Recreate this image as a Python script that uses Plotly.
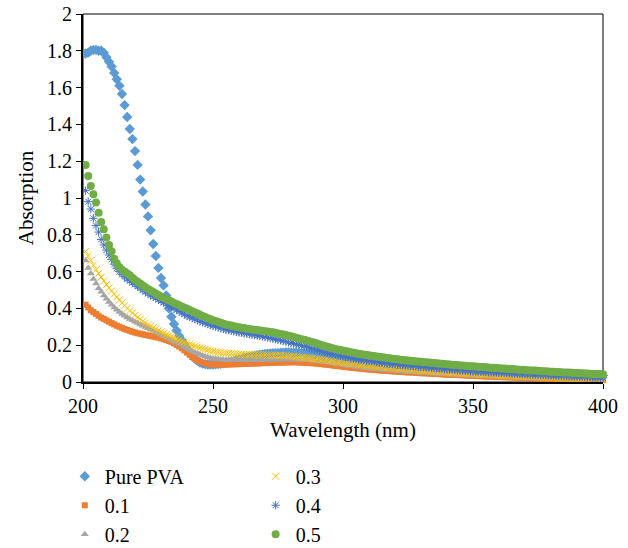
import plotly.graph_objects as go

wavelength = list(range(201, 401))

pure_pva = [
    1.785, 1.79, 1.80, 1.805, 1.805, 1.80, 1.80, 1.79, 1.765, 1.74,
    1.715, 1.68, 1.645, 1.61, 1.565, 1.505, 1.44, 1.375, 1.32, 1.255,
    1.18, 1.10, 1.035, 0.965, 0.90, 0.825, 0.75, 0.685, 0.62, 0.565,
    0.525, 0.47, 0.40, 0.355, 0.315, 0.28, 0.25, 0.228, 0.205, 0.182,
    0.16, 0.142, 0.127, 0.115, 0.106, 0.10, 0.097, 0.095, 0.095, 0.095,
    0.096, 0.097, 0.099, 0.101, 0.104, 0.107, 0.11, 0.114, 0.118, 0.122,
    0.126, 0.13, 0.134, 0.137, 0.14, 0.143, 0.146, 0.148, 0.15, 0.152,
    0.154, 0.155, 0.156, 0.157, 0.158, 0.159, 0.159, 0.16, 0.16, 0.16,
    0.159, 0.159, 0.158, 0.157, 0.156, 0.154, 0.152, 0.15, 0.147, 0.145,
    0.142, 0.139, 0.136, 0.133, 0.13, 0.127, 0.124, 0.121, 0.118, 0.115,
    0.113, 0.111, 0.109, 0.107, 0.105, 0.103, 0.101, 0.099, 0.097, 0.096,
    0.094, 0.093, 0.091, 0.09, 0.089, 0.088, 0.087, 0.086, 0.085, 0.084,
    0.083, 0.082, 0.081, 0.08, 0.079, 0.078, 0.077, 0.076, 0.075, 0.074,
    0.073, 0.072, 0.071, 0.07, 0.069, 0.068, 0.067, 0.066, 0.066, 0.065,
    0.064, 0.063, 0.063, 0.062, 0.061, 0.06, 0.06, 0.059, 0.058, 0.058,
    0.057, 0.057, 0.056, 0.055, 0.055, 0.054, 0.054, 0.053, 0.053, 0.052,
    0.052, 0.051, 0.051, 0.05, 0.05, 0.049, 0.049, 0.048, 0.048, 0.047,
    0.047, 0.046, 0.046, 0.046, 0.045, 0.045, 0.044, 0.044, 0.044, 0.043,
    0.043, 0.042, 0.042, 0.042, 0.041, 0.041, 0.041, 0.04, 0.04, 0.04,
    0.039, 0.039, 0.039, 0.038, 0.038, 0.038, 0.037, 0.037, 0.037, 0.036,
]

s01 = [
    0.42, 0.405, 0.39, 0.38, 0.37, 0.36, 0.35, 0.343, 0.335, 0.328,
    0.32, 0.313, 0.306, 0.30, 0.294, 0.288, 0.283, 0.278, 0.273, 0.269,
    0.265, 0.262, 0.259, 0.256, 0.253, 0.25, 0.247, 0.244, 0.241, 0.237,
    0.233, 0.228, 0.223, 0.217, 0.21, 0.202, 0.193, 0.183, 0.172, 0.16,
    0.148, 0.137, 0.127, 0.118, 0.11, 0.105, 0.101, 0.098, 0.096, 0.095,
    0.095, 0.095, 0.095, 0.095, 0.095, 0.095, 0.096, 0.096, 0.097, 0.097,
    0.098, 0.098, 0.099, 0.10, 0.10, 0.101, 0.101, 0.102, 0.102, 0.103,
    0.103, 0.104, 0.104, 0.105, 0.105, 0.106, 0.106, 0.106, 0.107, 0.107,
    0.107, 0.107, 0.106, 0.106, 0.105, 0.104, 0.103, 0.102, 0.101, 0.10,
    0.098, 0.097, 0.095, 0.094, 0.092, 0.09, 0.088, 0.087, 0.085, 0.083,
    0.081, 0.08, 0.078, 0.077, 0.075, 0.074, 0.072, 0.071, 0.069, 0.068,
    0.067, 0.066, 0.065, 0.063, 0.062, 0.061, 0.06, 0.059, 0.058, 0.057,
    0.056, 0.055, 0.054, 0.053, 0.052, 0.052, 0.051, 0.05, 0.049, 0.048,
    0.047, 0.047, 0.046, 0.045, 0.044, 0.044, 0.043, 0.042, 0.041, 0.04,
    0.04, 0.039, 0.039, 0.038, 0.037, 0.037, 0.036, 0.035, 0.034, 0.033,
    0.033, 0.032, 0.032, 0.031, 0.03, 0.03, 0.029, 0.029, 0.028, 0.027,
    0.027, 0.026, 0.026, 0.025, 0.025, 0.024, 0.024, 0.023, 0.023, 0.022,
    0.022, 0.021, 0.021, 0.021, 0.02, 0.02, 0.019, 0.019, 0.018, 0.017,
    0.017, 0.017, 0.016, 0.016, 0.015, 0.015, 0.015, 0.014, 0.014, 0.013,
    0.013, 0.013, 0.012, 0.012, 0.012, 0.011, 0.011, 0.011, 0.01, 0.01,
]

s02 = [
    0.66, 0.62, 0.59, 0.56, 0.535, 0.51, 0.49, 0.47, 0.452, 0.435,
    0.42, 0.405, 0.392, 0.38, 0.37, 0.36, 0.351, 0.343, 0.335, 0.327,
    0.32, 0.313, 0.306, 0.299, 0.292, 0.285, 0.278, 0.271, 0.264, 0.257,
    0.25, 0.243, 0.236, 0.229, 0.222, 0.214, 0.206, 0.198, 0.19, 0.182,
    0.175, 0.168, 0.161, 0.155, 0.149, 0.144, 0.139, 0.135, 0.131, 0.128,
    0.126, 0.124, 0.122, 0.121, 0.12, 0.12, 0.119, 0.119, 0.119, 0.119,
    0.119, 0.119, 0.119, 0.119, 0.119, 0.12, 0.12, 0.12, 0.12, 0.12,
    0.12, 0.121, 0.121, 0.121, 0.121, 0.122, 0.122, 0.122, 0.122, 0.122,
    0.122, 0.121, 0.121, 0.12, 0.12, 0.119, 0.118, 0.117, 0.115, 0.114,
    0.112, 0.11, 0.108, 0.106, 0.104, 0.102, 0.099, 0.097, 0.095, 0.092,
    0.09, 0.088, 0.086, 0.084, 0.082, 0.08, 0.079, 0.077, 0.075, 0.074,
    0.072, 0.071, 0.069, 0.068, 0.067, 0.065, 0.064, 0.063, 0.062, 0.06,
    0.059, 0.058, 0.057, 0.056, 0.055, 0.054, 0.053, 0.052, 0.051, 0.05,
    0.049, 0.048, 0.048, 0.047, 0.046, 0.045, 0.044, 0.044, 0.043, 0.042,
    0.041, 0.041, 0.04, 0.039, 0.039, 0.038, 0.037, 0.037, 0.036, 0.035,
    0.035, 0.034, 0.034, 0.033, 0.032, 0.032, 0.031, 0.031, 0.03, 0.03,
    0.029, 0.029, 0.028, 0.028, 0.027, 0.027, 0.026, 0.026, 0.025, 0.025,
    0.024, 0.024, 0.023, 0.023, 0.023, 0.022, 0.022, 0.021, 0.021, 0.02,
    0.02, 0.02, 0.019, 0.019, 0.018, 0.018, 0.018, 0.017, 0.017, 0.016,
    0.016, 0.016, 0.015, 0.015, 0.015, 0.014, 0.014, 0.013, 0.013, 0.012,
]

s03 = [
    0.71, 0.685, 0.66, 0.635, 0.61, 0.59, 0.57, 0.55, 0.53, 0.512,
    0.495, 0.478, 0.462, 0.446, 0.43, 0.415, 0.401, 0.388, 0.375, 0.363,
    0.352, 0.341, 0.331, 0.321, 0.312, 0.303, 0.295, 0.287, 0.279, 0.272,
    0.265, 0.258, 0.252, 0.246, 0.24, 0.234, 0.228, 0.222, 0.216, 0.21,
    0.205, 0.20, 0.195, 0.19, 0.186, 0.182, 0.178, 0.174, 0.17, 0.167,
    0.164, 0.162, 0.16, 0.158, 0.156, 0.155, 0.154, 0.153, 0.152, 0.151,
    0.15, 0.15, 0.149, 0.149, 0.148, 0.148, 0.148, 0.147, 0.147, 0.147,
    0.146, 0.146, 0.146, 0.145, 0.145, 0.144, 0.143, 0.142, 0.141, 0.14,
    0.139, 0.137, 0.136, 0.134, 0.133, 0.131, 0.129, 0.128, 0.126, 0.125,
    0.123, 0.121, 0.119, 0.117, 0.115, 0.113, 0.111, 0.109, 0.107, 0.105,
    0.103, 0.101, 0.099, 0.098, 0.096, 0.094, 0.093, 0.091, 0.089, 0.088,
    0.086, 0.085, 0.083, 0.082, 0.081, 0.079, 0.078, 0.077, 0.076, 0.075,
    0.073, 0.072, 0.071, 0.07, 0.069, 0.068, 0.066, 0.065, 0.064, 0.063,
    0.062, 0.061, 0.06, 0.059, 0.058, 0.057, 0.056, 0.055, 0.054, 0.052,
    0.051, 0.05, 0.049, 0.049, 0.048, 0.047, 0.046, 0.045, 0.044, 0.043,
    0.042, 0.042, 0.041, 0.04, 0.04, 0.039, 0.038, 0.038, 0.037, 0.036,
    0.035, 0.035, 0.034, 0.034, 0.033, 0.032, 0.032, 0.031, 0.03, 0.029,
    0.029, 0.028, 0.028, 0.027, 0.027, 0.026, 0.025, 0.025, 0.024, 0.023,
    0.023, 0.023, 0.022, 0.022, 0.021, 0.021, 0.02, 0.02, 0.019, 0.018,
    0.018, 0.018, 0.017, 0.017, 0.016, 0.016, 0.015, 0.015, 0.014, 0.014,
]

s04 = [
    1.04, 0.98, 0.94, 0.89, 0.85, 0.815, 0.775, 0.745, 0.717, 0.69,
    0.665, 0.64, 0.618, 0.60, 0.585, 0.572, 0.56, 0.55, 0.54, 0.53,
    0.52, 0.51, 0.50, 0.49, 0.48, 0.472, 0.464, 0.456, 0.448, 0.44,
    0.432, 0.424, 0.416, 0.408, 0.40, 0.392, 0.384, 0.376, 0.368, 0.36,
    0.354, 0.348, 0.342, 0.336, 0.33, 0.325, 0.32, 0.315, 0.31, 0.305,
    0.301, 0.297, 0.293, 0.289, 0.285, 0.282, 0.279, 0.276, 0.273, 0.27,
    0.268, 0.265, 0.263, 0.26, 0.258, 0.255, 0.253, 0.25, 0.248, 0.245,
    0.242, 0.239, 0.236, 0.233, 0.23, 0.227, 0.223, 0.22, 0.216, 0.212,
    0.209, 0.205, 0.202, 0.198, 0.195, 0.191, 0.187, 0.183, 0.179, 0.175,
    0.171, 0.167, 0.163, 0.159, 0.155, 0.152, 0.149, 0.146, 0.143, 0.14,
    0.137, 0.135, 0.132, 0.13, 0.127, 0.125, 0.122, 0.12, 0.117, 0.115,
    0.113, 0.111, 0.109, 0.107, 0.105, 0.103, 0.101, 0.10, 0.098, 0.097,
    0.095, 0.094, 0.092, 0.091, 0.09, 0.089, 0.087, 0.086, 0.084, 0.083,
    0.082, 0.08, 0.079, 0.078, 0.076, 0.075, 0.074, 0.073, 0.071, 0.07,
    0.069, 0.068, 0.067, 0.065, 0.064, 0.063, 0.062, 0.061, 0.059, 0.058,
    0.057, 0.056, 0.056, 0.055, 0.054, 0.053, 0.052, 0.052, 0.051, 0.05,
    0.049, 0.049, 0.048, 0.047, 0.046, 0.046, 0.045, 0.044, 0.043, 0.042,
    0.042, 0.041, 0.04, 0.04, 0.039, 0.038, 0.038, 0.037, 0.036, 0.035,
    0.035, 0.034, 0.033, 0.033, 0.032, 0.032, 0.031, 0.03, 0.03, 0.029,
    0.028, 0.028, 0.027, 0.026, 0.026, 0.025, 0.024, 0.024, 0.023, 0.022,
]

s05 = [
    1.18, 1.12, 1.065, 1.02, 0.975, 0.92, 0.87, 0.83, 0.785, 0.745,
    0.71, 0.67, 0.645, 0.625, 0.61, 0.60, 0.59, 0.58, 0.567, 0.555,
    0.545, 0.535, 0.525, 0.515, 0.505, 0.497, 0.489, 0.481, 0.473, 0.465,
    0.458, 0.451, 0.444, 0.437, 0.43, 0.424, 0.417, 0.411, 0.404, 0.398,
    0.391, 0.385, 0.378, 0.372, 0.365, 0.359, 0.353, 0.347, 0.341, 0.335,
    0.331, 0.326, 0.322, 0.317, 0.313, 0.31, 0.307, 0.303, 0.30, 0.297,
    0.295, 0.293, 0.29, 0.288, 0.286, 0.284, 0.282, 0.28, 0.278, 0.276,
    0.274, 0.272, 0.27, 0.267, 0.264, 0.261, 0.258, 0.255, 0.252, 0.249,
    0.245, 0.241, 0.237, 0.233, 0.229, 0.225, 0.221, 0.217, 0.213, 0.209,
    0.204, 0.20, 0.196, 0.192, 0.188, 0.184, 0.18, 0.177, 0.174, 0.171,
    0.168, 0.165, 0.162, 0.159, 0.156, 0.153, 0.151, 0.149, 0.147, 0.145,
    0.143, 0.141, 0.139, 0.137, 0.135, 0.133, 0.131, 0.129, 0.127, 0.125,
    0.123, 0.121, 0.12, 0.118, 0.117, 0.115, 0.114, 0.112, 0.111, 0.11,
    0.108, 0.107, 0.106, 0.104, 0.103, 0.102, 0.10, 0.099, 0.098, 0.097,
    0.095, 0.094, 0.093, 0.092, 0.09, 0.089, 0.088, 0.087, 0.086, 0.085,
    0.084, 0.083, 0.082, 0.081, 0.08, 0.079, 0.078, 0.077, 0.076, 0.075,
    0.074, 0.073, 0.072, 0.071, 0.07, 0.069, 0.068, 0.067, 0.066, 0.065,
    0.064, 0.063, 0.063, 0.062, 0.061, 0.06, 0.059, 0.058, 0.057, 0.056,
    0.056, 0.055, 0.054, 0.053, 0.052, 0.052, 0.051, 0.05, 0.049, 0.049,
    0.048, 0.047, 0.046, 0.046, 0.045, 0.044, 0.044, 0.043, 0.042, 0.042,
]

series_names = ["Pure PVA", "0.1", "0.2", "0.3", "0.4", "0.5"]
series_values = [pure_pva, s01, s02, s03, s04, s05]
colors = ["#5B9BD5", "#ED7D31", "#A5A5A5", "#FFC000", "#4472C4", "#70AD47"]
symbols = ["diamond", "square", "triangle-up", "x-thin-open", "asterisk-open", "circle"]
sizes = [8, 6, 7, 7, 7, 8]
legends = ["legend", "legend", "legend", "legend2", "legend2", "legend2"]

for v in series_values:
    assert len(v) == len(wavelength)

FONT = "'Liberation Serif', 'Times New Roman', 'DejaVu Serif', serif"

fig = go.Figure()
for name, vals, c, sym, sz, lg in zip(series_names, series_values, colors, symbols, sizes, legends):
    fig.add_trace(go.Scatter(
        x=wavelength, y=vals, name=name, mode="markers",
        marker=dict(symbol=sym, size=sz, color=c, line=dict(width=1 if "open" in sym else 0, color=c)),
        cliponaxis=False, legend=lg,
    ))

fig.update_layout(
    width=628, height=548,
    margin=dict(l=83, r=25, t=14, b=166, autoexpand=False),
    paper_bgcolor="white", plot_bgcolor="white",
    font=dict(family=FONT, size=20, color="black"),
    showlegend=True,
    legend=dict(x=-0.035, y=-0.203, xanchor="left", yanchor="top",
                font=dict(family=FONT, size=20), bgcolor="rgba(0,0,0,0)"),
    legend2=dict(x=0.332, y=-0.203, xanchor="left", yanchor="top",
                 font=dict(family=FONT, size=20), bgcolor="rgba(0,0,0,0)"),
    xaxis=dict(range=[200, 400], dtick=50, tick0=200, showgrid=False, zeroline=False,
               showline=True, linecolor="black", linewidth=2,
               ticks="outside", ticklen=5, tickwidth=1, tickcolor="black",
               tickfont=dict(family=FONT, size=20),
               title=dict(text="Wavelength (nm)", font=dict(family=FONT, size=21), standoff=6)),
    yaxis=dict(range=[0, 2], dtick=0.2, tick0=0, showgrid=False, zeroline=False,
               showline=True, linecolor="black", linewidth=2,
               ticks="outside", ticklen=5, tickwidth=1, tickcolor="black",
               tickfont=dict(family=FONT, size=20),
               title=dict(text="Absorption", font=dict(family=FONT, size=21), standoff=8)),
    shapes=[dict(type="rect", xref="paper", yref="paper", x0=0, x1=1, y0=0, y1=1,
                 line=dict(color="black", width=1), fillcolor="rgba(0,0,0,0)", layer="below")],
)

fig.write_html("out.html")
